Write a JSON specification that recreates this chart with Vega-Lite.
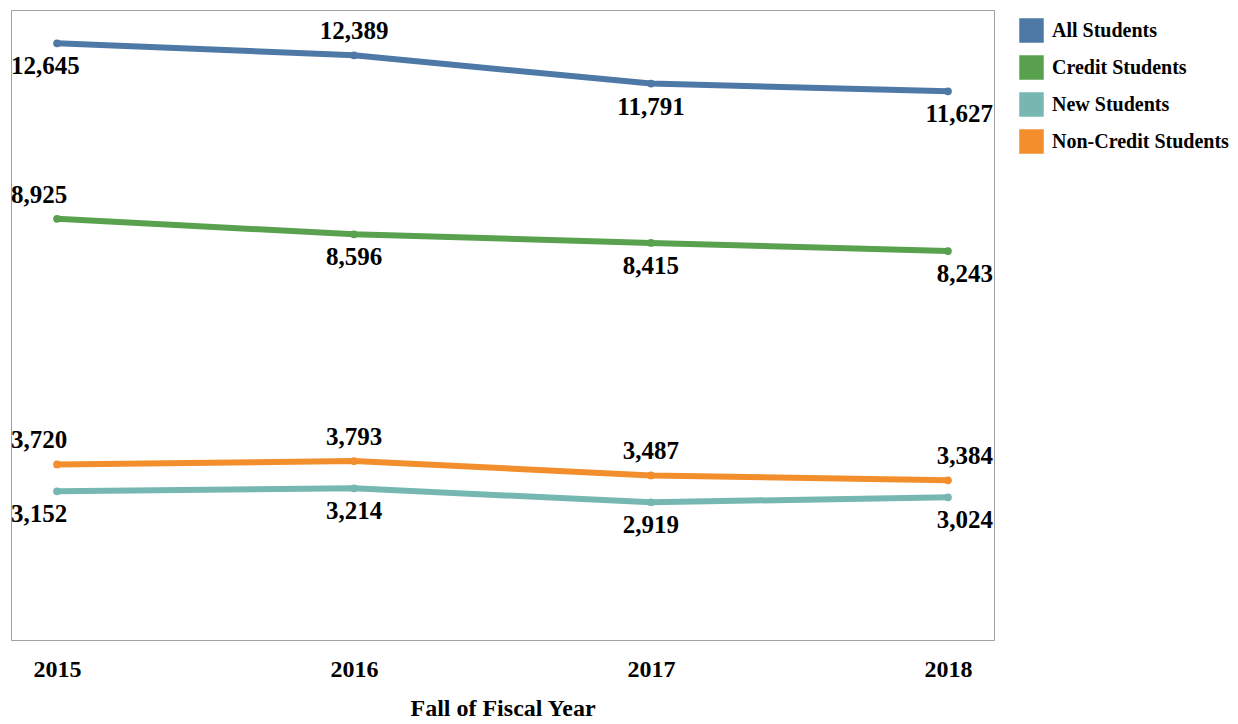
{
  "$schema": "https://vega.github.io/schema/vega-lite/v6.json",
  "width": 983,
  "height": 630,
  "autosize": "none",
  "padding": {"left": 11, "top": 10, "right": 244, "bottom": 84},
  "background": "white",
  "config": {
    "view": {"stroke": "#a0a0a0", "strokeWidth": 1},
    "font": "Liberation Serif"
  },
  "data": {
    "values": [
      {"year": "2015", "series": "All Students", "value": 12645},
      {"year": "2016", "series": "All Students", "value": 12389},
      {"year": "2017", "series": "All Students", "value": 11791},
      {"year": "2018", "series": "All Students", "value": 11627},
      {"year": "2015", "series": "Credit Students", "value": 8925},
      {"year": "2016", "series": "Credit Students", "value": 8596},
      {"year": "2017", "series": "Credit Students", "value": 8415},
      {"year": "2018", "series": "Credit Students", "value": 8243},
      {"year": "2015", "series": "New Students", "value": 3152},
      {"year": "2016", "series": "New Students", "value": 3214},
      {"year": "2017", "series": "New Students", "value": 2919},
      {"year": "2018", "series": "New Students", "value": 3024},
      {"year": "2015", "series": "Non-Credit Students", "value": 3720},
      {"year": "2016", "series": "Non-Credit Students", "value": 3793},
      {"year": "2017", "series": "Non-Credit Students", "value": 3487},
      {"year": "2018", "series": "Non-Credit Students", "value": 3384}
    ]
  },
  "encoding": {
    "x": {
      "field": "year", "type": "ordinal",
      "scale": {"type": "point", "padding": 0.155},
      "axis": {
        "title": "Fall of Fiscal Year",
        "labelAngle": 0,
        "domain": false, "ticks": false, "grid": false,
        "labelFont": "Liberation Serif", "labelFontWeight": "bold", "labelFontSize": 24, "labelColor": "#000",
        "labelPadding": 17,
        "titleFont": "Liberation Serif", "titleFontWeight": "bold", "titleFontSize": 24, "titleColor": "#000",
        "titlePadding": 15
      }
    },
    "y": {
      "field": "value", "type": "quantitative",
      "scale": {"domain": [0, 13350], "nice": false, "zero": true},
      "axis": null
    },
    "color": {
      "field": "series", "type": "nominal",
      "scale": {
        "domain": ["All Students", "Credit Students", "New Students", "Non-Credit Students"],
        "range": ["#4e79a7", "#59a14f", "#76b7b2", "#f28e2b"]
      },
      "legend": {
        "title": null,
        "orient": "none",
        "legendX": 1008,
        "legendY": 8,
        "padding": 0,
        "symbolType": "square",
        "symbolSize": 600,
        "symbolStrokeWidth": 0,
        "symbolOpacity": 1,
        "rowPadding": 12,
        "labelFont": "Liberation Serif",
        "labelFontWeight": "bold",
        "labelFontSize": 20,
        "labelColor": "#000",
        "labelOffset": 8,
        "labelLimit": 300
      }
    }
  },
  "layer": [
    {"mark": {"type": "line", "strokeWidth": 6, "interpolate": "linear"}},
    {"mark": {"type": "point", "filled": true, "size": 60, "opacity": 1}},
    {
      "transform": [
        {"filter": "datum.series=='Non-Credit Students' || (datum.series=='All Students' && datum.year=='2016') || (datum.series=='Credit Students' && datum.year=='2015')"},
        {"filter": "datum.year=='2015'"}
      ],
      "mark": {"type": "text", "align": "left", "baseline": "alphabetic", "dx": -46, "dy": -16, "font": "Liberation Serif", "fontWeight": "bold", "fontSize": 25},
      "encoding": {"text": {"field": "value", "type": "quantitative", "format": ","}, "color": {"value": "#000"}}
    },
    {
      "transform": [
        {"filter": "datum.series=='Non-Credit Students' || (datum.series=='All Students' && datum.year=='2016') || (datum.series=='Credit Students' && datum.year=='2015')"},
        {"filter": "datum.year=='2016' || datum.year=='2017'"}
      ],
      "mark": {"type": "text", "align": "center", "baseline": "alphabetic", "dy": -16, "font": "Liberation Serif", "fontWeight": "bold", "fontSize": 25},
      "encoding": {"text": {"field": "value", "type": "quantitative", "format": ","}, "color": {"value": "#000"}}
    },
    {
      "transform": [
        {"filter": "datum.series=='Non-Credit Students' || (datum.series=='All Students' && datum.year=='2016') || (datum.series=='Credit Students' && datum.year=='2015')"},
        {"filter": "datum.year=='2018'"}
      ],
      "mark": {"type": "text", "align": "right", "baseline": "alphabetic", "dx": 45, "dy": -16, "font": "Liberation Serif", "fontWeight": "bold", "fontSize": 25},
      "encoding": {"text": {"field": "value", "type": "quantitative", "format": ","}, "color": {"value": "#000"}}
    },
    {
      "transform": [
        {"filter": "!(datum.series=='Non-Credit Students' || (datum.series=='All Students' && datum.year=='2016') || (datum.series=='Credit Students' && datum.year=='2015'))"},
        {"filter": "datum.year=='2015'"}
      ],
      "mark": {"type": "text", "align": "left", "baseline": "top", "dx": -46, "dy": 11, "font": "Liberation Serif", "fontWeight": "bold", "fontSize": 25},
      "encoding": {"text": {"field": "value", "type": "quantitative", "format": ","}, "color": {"value": "#000"}}
    },
    {
      "transform": [
        {"filter": "!(datum.series=='Non-Credit Students' || (datum.series=='All Students' && datum.year=='2016') || (datum.series=='Credit Students' && datum.year=='2015'))"},
        {"filter": "datum.year=='2016' || datum.year=='2017'"}
      ],
      "mark": {"type": "text", "align": "center", "baseline": "top", "dy": 11, "font": "Liberation Serif", "fontWeight": "bold", "fontSize": 25},
      "encoding": {"text": {"field": "value", "type": "quantitative", "format": ","}, "color": {"value": "#000"}}
    },
    {
      "transform": [
        {"filter": "!(datum.series=='Non-Credit Students' || (datum.series=='All Students' && datum.year=='2016') || (datum.series=='Credit Students' && datum.year=='2015'))"},
        {"filter": "datum.year=='2018'"}
      ],
      "mark": {"type": "text", "align": "right", "baseline": "top", "dx": 45, "dy": 11, "font": "Liberation Serif", "fontWeight": "bold", "fontSize": 25},
      "encoding": {"text": {"field": "value", "type": "quantitative", "format": ","}, "color": {"value": "#000"}}
    }
  ]
}
